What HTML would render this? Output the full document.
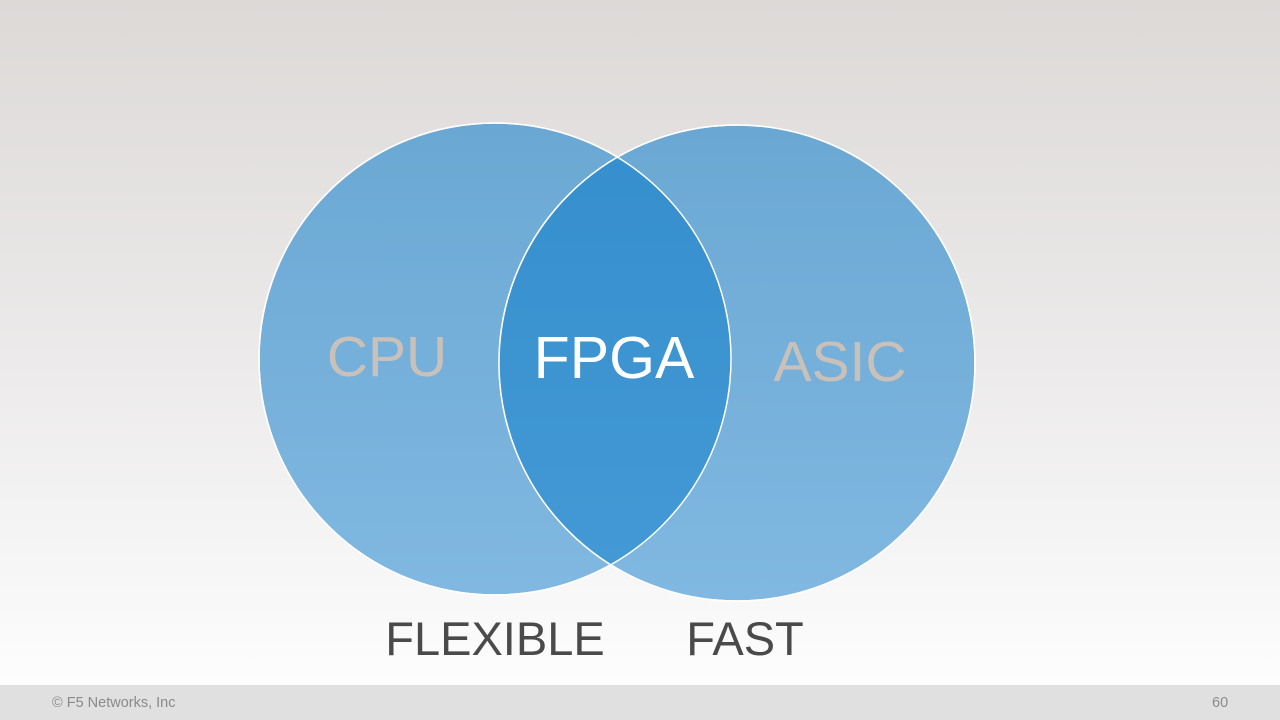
<!DOCTYPE html>
<html><head><meta charset="utf-8"><style>
html,body{margin:0;padding:0;width:1280px;height:720px;overflow:hidden}
body{background:linear-gradient(#dcd9d7 0%,#eceaea 50%,#fdfdfd 95%);position:relative;font-family:"Liberation Sans",Arial,sans-serif}
.foot{position:absolute;left:0;top:685px;width:1280px;height:35px;background:#e0e0e0;color:#8a8a8a;font-size:14.5px}
.foot .l{position:absolute;left:52px;top:10px}
.foot .r{position:absolute;left:1212px;top:10px}
</style></head><body>
<svg width="1280" height="720" style="position:absolute;left:0;top:0">
<defs>
<linearGradient id="g" x1="0" y1="0" x2="0" y2="1"><stop offset="0" stop-color="#6aa8d3"/><stop offset="1" stop-color="#80b8e1"/></linearGradient>
<linearGradient id="g2" x1="0" y1="0" x2="0" y2="1"><stop offset="0" stop-color="#358ecd"/><stop offset="1" stop-color="#449ad5"/></linearGradient>
<clipPath id="c"><circle cx="495" cy="359" r="236"/></clipPath>
</defs>
<circle cx="495" cy="359" r="236" fill="url(#g)" stroke="#fff" stroke-width="1.5"/>
<circle cx="737" cy="363" r="238" fill="url(#g)" stroke="#fff" stroke-width="1.5"/>
<circle cx="737" cy="363" r="238" fill="url(#g2)" clip-path="url(#c)"/>
<circle cx="495" cy="359" r="236" fill="none" stroke="#fff" stroke-width="1.5"/>
<circle cx="737" cy="363" r="238" fill="none" stroke="#fff" stroke-width="1.5"/>
<g font-family="Liberation Sans, Arial, sans-serif">
<text x="387" y="376" font-size="57" fill="#c9c1b9" text-anchor="middle">CPU</text>
<text x="614" y="378" font-size="59" fill="#fff" text-anchor="middle">FPGA</text>
<text x="840" y="381" font-size="57" fill="#c9c1b9" text-anchor="middle">ASIC</text>
<text x="495" y="655" font-size="47" fill="#4a4a4a" text-anchor="middle">FLEXIBLE</text>
<text x="745" y="655" font-size="47" fill="#4a4a4a" text-anchor="middle">FAST</text>
</g>
</svg>
<div class="foot"><span class="l">© F5 Networks, Inc</span><span class="r">60</span></div>
</body></html>
